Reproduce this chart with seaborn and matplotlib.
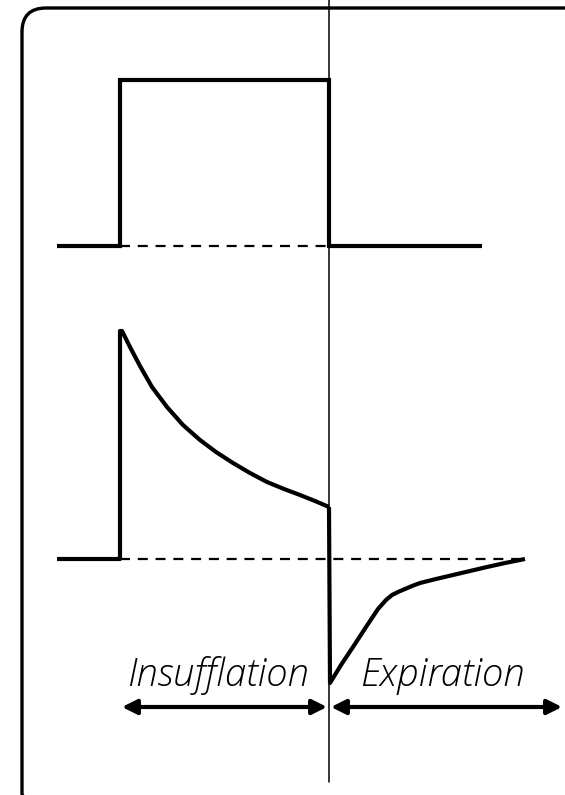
import matplotlib
matplotlib.use("Agg")
import matplotlib.pyplot as plt
from matplotlib.patches import FancyBboxPatch
import seaborn as sns
import pandas as pd

sns.set_theme(style="white")
plt.rcParams['font.family'] = ['Open Sans', 'DejaVu Sans']

# ---- data (pixel-space diagram coordinates) ----
pressure_x = [57, 120, 120, 329, 329, 482]
pressure_y = [246, 246, 80, 80, 246, 246]

flow_in_x = [57, 120, 120, 122, 130, 140, 152, 167, 183, 200, 216, 233, 250, 267, 284, 300, 315, 329]
flow_in_y = [559, 559, 331, 331, 347, 366, 387, 407, 425, 440, 452, 463, 473, 482, 489, 495, 501, 507]

flow_ex_x = [329, 330, 341, 353, 366, 378, 386, 392, 398, 405, 412, 420, 436, 453, 470, 487, 505, 525]
flow_ex_y = [507, 683, 665, 647, 627, 609, 600, 595, 592, 589, 586, 583, 579, 575, 571, 567, 563, 559]

baseline_top = 246
baseline_bottom = 559
dash_top = [120, 329]
dash_bottom = [120, 525]
phase_split_x = 329
phase_labels = ["Insufflation", "Expiration"]
label_x = [218, 442]
label_y = 686
arrow_y = 707
arrow_in = [122, 327]
arrow_ex = [331, 562]

fig = plt.figure(figsize=(5.65, 7.95), dpi=100)
ax = fig.add_axes([0, 0, 1, 1])

# rounded frame
frame = FancyBboxPatch((22, 8), 570, 810, boxstyle="round,pad=0,rounding_size=24",
                       linewidth=2.4, edgecolor='black', facecolor='none', zorder=1)
ax.add_patch(frame)

# vertical phase separator
ax.plot([phase_split_x, phase_split_x], [0, 782], color='black', lw=1.1, zorder=2)

# dashed baselines
ax.plot(dash_top, [baseline_top]*2, color='black', lw=1.6, ls=(0, (4.5, 3.5)), zorder=2)
ax.plot(dash_bottom, [baseline_bottom]*2, color='black', lw=1.6, ls=(0, (4.5, 3.5)), zorder=2)

df_p = pd.DataFrame({'x': pressure_x, 'y': pressure_y})
df_fi = pd.DataFrame({'x': flow_in_x, 'y': flow_in_y})
df_fe = pd.DataFrame({'x': flow_ex_x, 'y': flow_ex_y})

kw = dict(color='black', linewidth=3.0, sort=False, estimator=None, ax=ax)
n0 = len(ax.lines)
sns.lineplot(data=df_p, x='x', y='y', **kw)
ax.lines[-1].set_solid_joinstyle('miter')
ax.lines[-1].set_solid_capstyle('butt')
for d in (df_fi, df_fe):
    sns.lineplot(data=d, x='x', y='y', **kw)
    ax.lines[-1].set_solid_joinstyle('round')
    ax.lines[-1].set_solid_capstyle('butt')

ax.set_xlim(0, 565)
ax.set_ylim(795, 0)
ax.axis('off')

# arrows
for a in (arrow_in, arrow_ex):
    ax.annotate('', xy=(a[0], arrow_y), xytext=(a[1], arrow_y),
                arrowprops=dict(arrowstyle='<|-|>', lw=3.0, color='black',
                                mutation_scale=22, shrinkA=0, shrinkB=0))

for lab, x in zip(phase_labels, label_x):
    ax.text(x, label_y, lab, ha='center', va='baseline', fontsize=27.5,
            fontstyle='italic', fontweight='light', color='black')

fig.savefig('out.png', dpi=100)
